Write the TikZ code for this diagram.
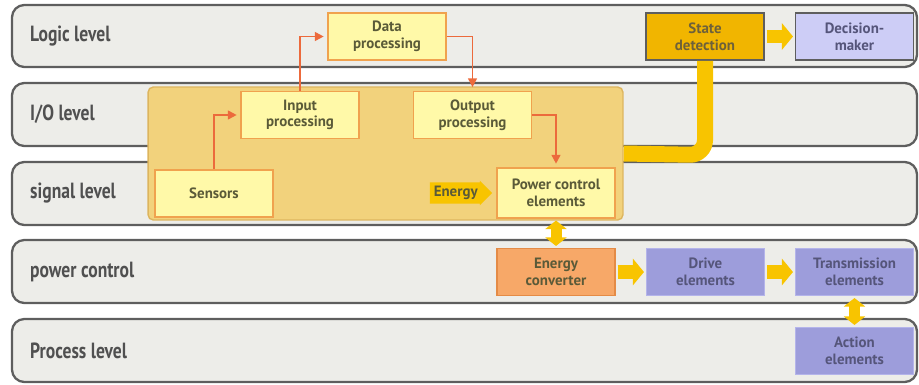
\documentclass[tikz,border=0pt]{standalone}
\usepackage{fontspec}
\setmainfont{PT Sans}
\newfontfamily\lvlfont[FakeStretch=0.8]{PT Sans}
\usetikzlibrary{arrows.meta}
\usetikzlibrary{shapes.arrows}
\usetikzlibrary{calc}

\definecolor{bandfill}{HTML}{EDEDE9}
\definecolor{bandline}{HTML}{5E5E5E}
\definecolor{lvltext}{HTML}{505050}
\definecolor{iofill}{HTML}{F2D27C}
\definecolor{ioline}{HTML}{DDB55E}
\definecolor{boxfill}{HTML}{FFF9A8}
\definecolor{boxline}{HTML}{F0A24E}
\definecolor{boxtext}{HTML}{5A5A38}
\definecolor{statefill}{HTML}{F1B500}
\definecolor{decfill}{HTML}{CDCDF6}
\definecolor{convfill}{HTML}{F7A868}
\definecolor{convline}{HTML}{E48B46}
\definecolor{actfill}{HTML}{9D9DDB}
\definecolor{actline}{HTML}{B4B4EA}
\definecolor{acttext}{HTML}{55557A}
\definecolor{flowred}{HTML}{EC6A3C}
\definecolor{pwryellow}{HTML}{F8C400}

\tikzset{
  band/.style={draw=bandline, line width=1.3pt, fill=bandfill, rounded corners=7pt},
  lvl/.style={anchor=west, text=lvltext, font=\lvlfont\bfseries\fontsize{12.5}{13}\selectfont},
  box/.style={draw=boxline, line width=0.9pt, fill=boxfill, text=boxtext, align=center,
    minimum width=2.36cm, minimum height=0.94cm, inner sep=1pt,
    font=\bfseries\fontsize{8.5}{9.5}\selectfont},
  statebox/.style={box, draw=bandline, fill=statefill, text=boxtext!80!brown},
  decbox/.style={box, draw=bandline, fill=decfill, text=acttext},
  convbox/.style={box, draw=convline, fill=convfill},
  actbox/.style={box, draw=actline, fill=actfill, text=acttext},
  flow/.style={draw=flowred, line width=0.9pt, -{Triangle[length=5pt,width=5pt]}, shorten >=2pt},
  power/.style={draw=pwryellow, line width=0.28cm, -{Triangle[length=0.22cm,width=0.52cm]},
    shorten <=1pt, shorten >=1pt},
  power2/.style={draw=pwryellow, line width=0.22cm,
    {Triangle[length=0.17cm,width=0.42cm]}-{Triangle[length=0.17cm,width=0.42cm]},
    shorten <=1pt, shorten >=1pt},
  energytag/.style={single arrow, fill=pwryellow, text=boxtext, inner sep=2pt,
    single arrow head extend=1pt, font=\bfseries\fontsize{8.5}{9.5}\selectfont}
}

\begin{document}
\begin{tikzpicture}[x=0.02cm, y=-0.02cm]
\useasboundingbox (0,0) rectangle (919,385);
% the five levels
\draw[band] (12,5) rectangle (917,67);
\draw[band] (12,83) rectangle (917,146);
\draw[band] (12,162) rectangle (917,225);
\draw[band] (12,240) rectangle (917,303);
\draw[band] (12,319) rectangle (917,382);
\node[lvl] (logic) at (24,36) {Logic level};
\node[lvl] (io) at (24,114) {I/O level};
\node[lvl] (signal) at (24,193) {signal level};
\node[lvl] (pctrl) at (24,272) {power control};
\node[lvl] (process) at (24,351) {Process level};
% the I/O module
\node[draw=ioline, line width=0.8pt, fill=iofill, rounded corners=3pt,
  minimum width=9.5cm, minimum height=2.66cm] (iomod) at (385.5,153.5) {};
% the yellow feed to state detection
\node[statebox] (state) at (705,36.5) {State\\detection};
\draw[draw=pwryellow, line width=0.32cm, rounded corners=0.3cm]
  (state.south) -- (705,155) -- (iomod.east);
%     boxes
\node[box] (data) at (387,36.5) {Data\\processing};
\node[box] (inproc) at (300,115) {Input\\processing};
\node[box] (outproc) at (472.5,115) {Output\\processing};
\node[box] (sensors) at (214,193.5) {Sensors};
\node[box, minimum height=1cm] (pwrctrl) at (556,193) {Power control\\elements};
\node[energytag, anchor=tip] (energy) at ($(pwrctrl.west)+(-2pt,0)$) {Energy};
\node[decbox] (decision) at (854.5,36.5) {Decision-\\maker};
\node[convbox] (conv) at (556,272) {Energy\\converter};
\node[actbox] (drive) at (705.5,272) {Drive\\elements};
\node[actbox] (trans) at (854.5,272) {Transmission\\elements};
\node[actbox] (action) at (854.5,351) {Action\\elements};
%     signal flow
\draw[flow] (sensors.north) |- (inproc.west);
\draw[flow] (inproc.north) |- (data.west);
\draw[flow] (data.east) -| (outproc.north);
\draw[flow] (outproc.east) -| (pwrctrl.north);
%     energy flow
\draw[power] (state.east) -- (decision.west);
\draw[power] (conv.east) -- (drive.west);
\draw[power] (drive.east) -- (trans.west);
\draw[power2] (pwrctrl.south) -- (conv.north);
\draw[power2] (trans.south) -- (action.north);
\end{tikzpicture}
\end{document}
